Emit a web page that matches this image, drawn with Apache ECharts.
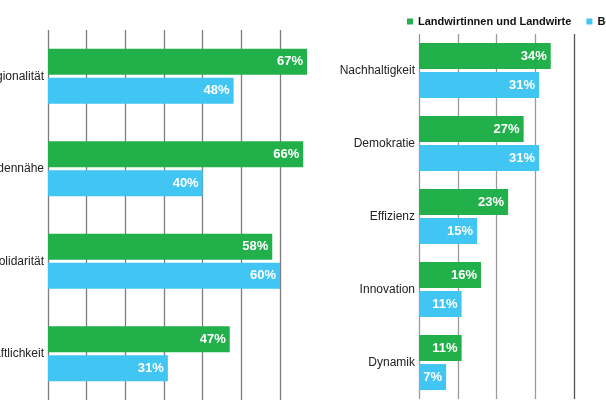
<!DOCTYPE html>
<html><head><meta charset="utf-8">
<script src="https://cdn.jsdelivr.net/npm/echarts@6/dist/echarts.min.js"></script>
<style>html,body{margin:0;padding:0;background:#fff}#c{width:606px;height:402px}</style>
</head><body><div id="c"></div>
<script>
// Left panel
const leftCategories = ['Regionalität', 'Kundennähe', 'Solidarität', 'Wirtschaftlichkeit'];
const leftFarmers = [67, 66, 58, 47];
const leftPopulation = [48, 40, 60, 31];
// Right panel
const rightCategories = ['Nachhaltigkeit', 'Demokratie', 'Effizienz', 'Innovation', 'Dynamik'];
const rightFarmers = [34, 27, 23, 16, 11];
const rightPopulation = [31, 31, 15, 11, 7];
const seriesNames = ['Landwirtinnen und Landwirte', 'Bevölkerung'];

const GREEN = '#22b04b', BLUE = '#41c5f2';
const FONT = '"Liberation Sans", Arial, sans-serif';

function bar(name, data, color, idx) {
  return {
    type: 'bar', name, data, xAxisIndex: idx, yAxisIndex: idx,
    barWidth: 26, barGap: '12%', clip: false,
    itemStyle: { color },
    label: { show: true, position: 'insideRight', distance: 4, color: '#fff',
      fontFamily: FONT, fontWeight: 'bold', fontSize: 13, formatter: '{c}%' },
    emphasis: { disabled: true }, animation: false
  };
}

const chart = echarts.init(document.getElementById('c'), null, { renderer: 'canvas' });
chart.setOption({
  animation: false,
  textStyle: { fontFamily: FONT },
  legend: {
    data: seriesNames, left: 407, top: 16, width: 600, orient: 'horizontal',
    itemWidth: 6, itemHeight: 6, itemGap: 15, padding: 0,
    icon: 'rect', selectedMode: false,
    textStyle: { fontFamily: FONT, fontWeight: 'bold', fontSize: 11, color: '#111' }
  },
  grid: [
    { left: 48, width: 232, top: 30, height: 370, outerBoundsMode: 'none', containLabel: false },
    { left: 419, width: 155, top: 34, height: 365, outerBoundsMode: 'none', containLabel: false }
  ],
  xAxis: [
    { gridIndex: 0, type: 'value', min: 0, max: 60, interval: 10,
      axisLabel: { show: false }, axisLine: { show: false }, axisTick: { show: false },
      splitLine: { show: true, lineStyle: { color: '#7d7d7d', width: 1.3 } } },
    { gridIndex: 1, type: 'value', min: 0, max: 40, interval: 10,
      axisLabel: { show: false }, axisLine: { show: false }, axisTick: { show: false },
      splitLine: { show: true, lineStyle: { color: ['#9a9a9a', '#9a9a9a', '#9a9a9a', '#9a9a9a', '#555'], width: 1.3 } } }
  ],
  yAxis: [
    { gridIndex: 0, type: 'category', data: leftCategories, inverse: true,
      axisLine: { show: false }, axisTick: { show: false },
      axisLabel: { margin: 4, color: '#222', fontSize: 12, fontFamily: FONT } },
    { gridIndex: 1, type: 'category', data: rightCategories, inverse: true,
      axisLine: { show: false }, axisTick: { show: false },
      axisLabel: { margin: 4, color: '#222', fontSize: 12, fontFamily: FONT } }
  ],
  series: [
    bar(seriesNames[0], leftFarmers, GREEN, 0),
    bar(seriesNames[1], leftPopulation, BLUE, 0),
    bar(seriesNames[0], rightFarmers, GREEN, 1),
    bar(seriesNames[1], rightPopulation, BLUE, 1)
  ]
});
</script></body></html>
